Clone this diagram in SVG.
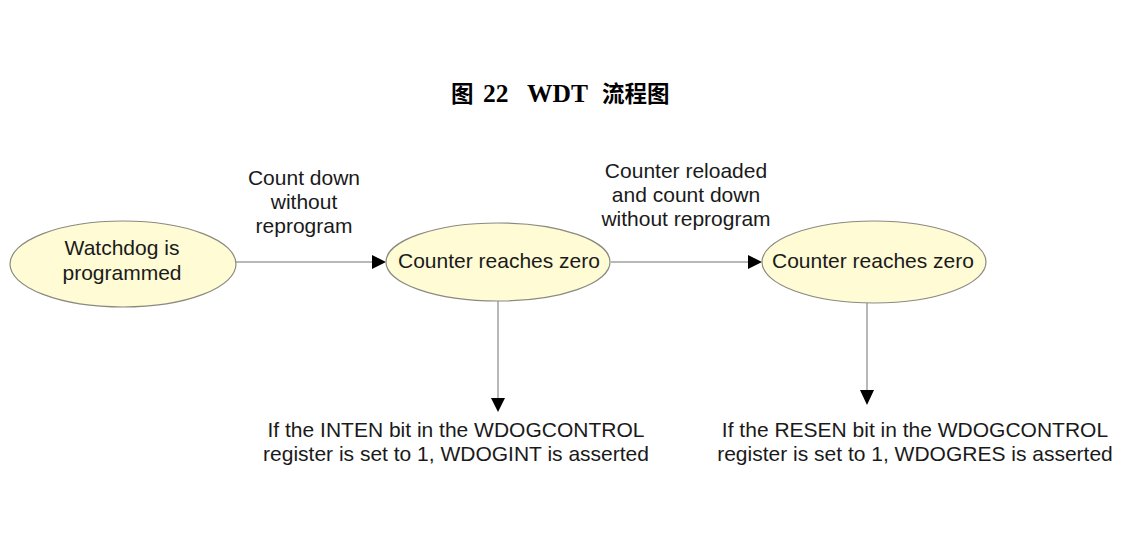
<svg xmlns="http://www.w3.org/2000/svg" width="1121" height="550" viewBox="0 0 1121 550">
<style>
.node ellipse{fill:#FFFBD5;stroke:#8a8a80;stroke-width:1.2}
.t{font-family:"Liberation Sans",Arial,sans-serif;font-size:21px;fill:#1a1a1a;text-anchor:middle}
.title{font-family:"Liberation Serif","Noto Sans CJK SC",serif;font-weight:bold;fill:#000}
.cjk{font-size:22.5px}
.lat{font-size:25.5px}
.conn line{stroke:#a0a0a0;stroke-width:1.5}
.ah{fill:#000}
</style>
<rect width="1121" height="550" fill="#fff"/>
<text class="title" y="102"><tspan class="cjk" x="451">图</tspan><tspan class="lat" x="483">22</tspan><tspan class="lat" x="527">WDT</tspan><tspan class="cjk" x="602">流程图</tspan></text>
<g id="connectors" class="conn">
<line x1="236" y1="262" x2="373" y2="262"/>
<polygon class="ah" points="372,255 386,262 372,269"/>
<line x1="611" y1="262" x2="749" y2="262"/>
<polygon class="ah" points="748,255 762,262 748,269"/>
<line x1="498" y1="300" x2="498" y2="399"/>
<polygon class="ah" points="491,398 505,398 498,412"/>
<line x1="867" y1="303" x2="867" y2="391"/>
<polygon class="ah" points="860,390 874,390 867,405"/>
</g>
<g id="label1">
<text class="t" x="304" y="185">Count down</text>
<text class="t" x="304" y="209">without</text>
<text class="t" x="304" y="233">reprogram</text>
</g>
<g id="label2">
<text class="t" x="686" y="178">Counter reloaded</text>
<text class="t" x="686" y="202">and count down</text>
<text class="t" x="686" y="226">without reprogram</text>
</g>
<g id="node1" class="node">
<ellipse cx="123" cy="264" rx="113" ry="43"/>
<text class="t" x="122" y="255">Watchdog is</text>
<text class="t" x="122" y="280">programmed</text>
</g>
<g id="node2" class="node">
<ellipse cx="498" cy="262" rx="112" ry="39"/>
<text class="t" x="499" y="268">Counter reaches zero</text>
</g>
<g id="node3" class="node">
<ellipse cx="874" cy="262" rx="112" ry="41"/>
<text class="t" x="873" y="268">Counter reaches zero</text>
</g>
<g id="result1">
<text class="t" x="456" y="437">If the INTEN bit in the WDOGCONTROL</text>
<text class="t" x="456" y="461">register is set to 1, WDOGINT is asserted</text>
</g>
<g id="result2">
<text class="t" x="915" y="437">If the RESEN bit in the WDOGCONTROL</text>
<text class="t" x="915" y="461">register is set to 1, WDOGRES is asserted</text>
</g>
</svg>
